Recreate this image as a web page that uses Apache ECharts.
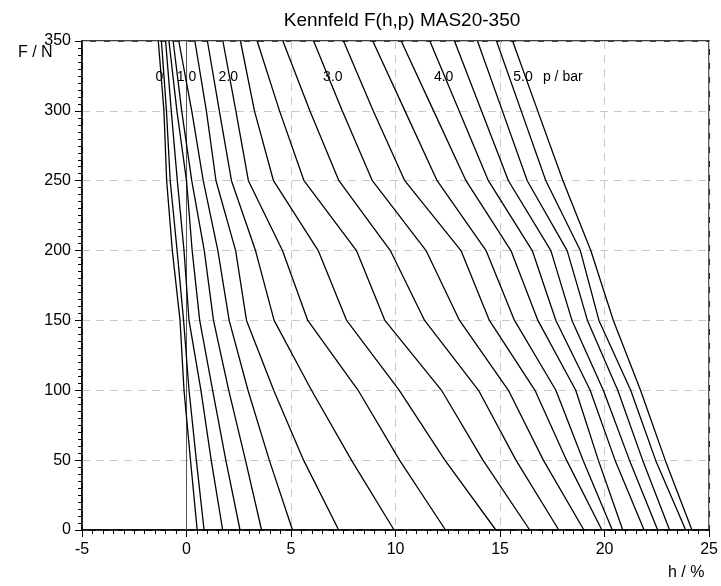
<!DOCTYPE html>
<html>
<head>
<meta charset="utf-8">
<script src="https://cdn.jsdelivr.net/npm/echarts@6/dist/echarts.min.js"></script>
<style>
html,body{margin:0;padding:0;background:#fff;}
#chart{width:721px;height:586px;}
</style>
</head>
<body>
<div id="chart"></div>
<script>
// Force levels (N) at which each curve's contraction h (%) is given
const forceLevels = [0, 50, 100, 150, 200, 250, 300, 350];

// Contraction h (%) per pressure curve, one array per curve (low to high pressure)
const curve01 = [0.51, 0.19, -0.12, -0.31, -0.68, -0.95, -1.08, -1.35];
const curve02 = [0.84, 0.47, 0.12, -0.14, -0.45, -0.78, -0.96, -1.20];
const curve03 = [1.73, 1.18, 0.69, 0.12, -0.12, -0.44, -0.73, -1.00];
const curve04 = [2.56, 1.88, 1.25, 0.63, 0.27, 0.00, -0.46, -0.84];
const curve05 = [3.59, 2.82, 2.02, 1.29, 0.85, 0.25, -0.23, -0.64];
const curve06 = [5.07, 3.96, 2.94, 2.04, 1.50, 0.80, 0.25, -0.37];
const curve07 = [7.28, 5.60, 4.17, 2.87, 2.35, 1.41, 0.95, 0.40];
const curve08 = [9.93, 7.89, 5.98, 4.19, 3.30, 2.15, 1.57, 1.00];
const curve09 = [12.39, 10.19, 8.21, 5.80, 4.59, 2.96, 2.36, 1.74];
const curve10 = [14.80, 12.36, 10.18, 7.66, 6.30, 4.16, 3.25, 2.58];
const curve11 = [16.42, 14.18, 12.20, 9.49, 8.13, 5.62, 4.45, 3.38];
const curve12 = [17.81, 15.76, 13.97, 11.39, 9.75, 7.29, 5.90, 4.61];
const curve13 = [19.01, 17.07, 15.40, 13.06, 11.46, 8.89, 7.45, 6.08];
const curve14 = [19.87, 18.18, 16.67, 14.49, 13.13, 10.44, 8.93, 7.51];
const curve15 = [20.37, 18.97, 17.67, 15.69, 14.33, 11.99, 10.45, 8.91];
const curve16 = [20.87, 19.70, 18.62, 16.81, 15.52, 13.37, 11.82, 10.27];
const curve17 = [21.89, 20.50, 19.31, 17.67, 16.54, 14.44, 13.04, 11.64];
const curve18 = [22.54, 21.19, 19.94, 18.44, 17.43, 15.40, 14.11, 12.82];
const curve19 = [23.11, 21.82, 20.63, 19.18, 18.21, 16.30, 15.11, 13.92];
const curve20 = [23.88, 22.44, 21.25, 19.73, 18.84, 17.19, 16.01, 14.83];
const curve21 = [24.18, 22.90, 21.72, 20.42, 19.34, 18.01, 16.80, 15.60];
const curves = [curve01, curve02, curve03, curve04, curve05, curve06, curve07,
  curve08, curve09, curve10, curve11, curve12, curve13, curve14, curve15,
  curve16, curve17, curve18, curve19, curve20, curve21];

// Zero reference line h = 0
const zeroLineH = [0, 0];
const zeroLineF = [0, 350];

// In-plot pressure labels (text and data-coordinate anchor)
const pressureLabels = ['0', '1.0', '2.0', '3.0', '4.0', '5.0', 'p / bar'];
const pressureLabelH = [-1.3, 0.0, 2.0, 7.0, 12.3, 16.1, 18.0];
const pressureLabelF = [324, 324, 324, 324, 324, 324, 324];

const titleText = 'Kennfeld F(h,p) MAS20-350';
const xName = 'h / %';
const yName = 'F / N';

const FONT = '"Liberation Sans", Arial, sans-serif';

const series = curves.map(function (c) {
  return {
    type: 'line',
    data: c.map(function (h, i) { return [h, forceLevels[i]]; }),
    symbol: 'none',
    lineStyle: { color: '#000', width: 1.3 },
    silent: true,
    z: 3
  };
});
series.push({
  type: 'line',
  data: zeroLineH.map(function (h, i) { return [h, zeroLineF[i]]; }),
  symbol: 'none',
  lineStyle: { color: '#555', width: 1 },
  silent: true,
  z: 2
});
series.push({
  type: 'scatter',
  symbolSize: 0,
  itemStyle: { opacity: 1 },
  data: pressureLabels.map(function (t, i) {
    return { value: [pressureLabelH[i], pressureLabelF[i]], name: t };
  }),
  label: {
    show: true,
    position: 'inside',
    formatter: function (p) { return p.name; },
    color: '#000',
    opacity: 1,
    fontFamily: FONT,
    fontSize: 14
  },
  silent: true,
  z: 5
});

const chart = echarts.init(document.getElementById('chart'), null, { renderer: 'canvas' });
chart.setOption({
  animation: false,
  backgroundColor: '#fff',
  title: {
    text: titleText,
    left: 397,
    textAlign: 'center',
    top: 6,
    textStyle: { fontFamily: FONT, fontSize: 19, fontWeight: 'normal', color: '#000' }
  },
  graphic: [
    { type: 'text', left: 18, top: 45, style: { text: yName, font: '16px ' + FONT, fill: '#000' } },
    { type: 'text', left: 668, top: 565, style: { text: xName, font: '16px ' + FONT, fill: '#000' } }
  ],
  grid: {
    left: 82, right: 10, top: 41, bottom: 56,
    show: true, borderColor: '#000', borderWidth: 1.5, backgroundColor: 'transparent'
  },
  xAxis: {
    type: 'value', min: -5, max: 25, interval: 5,
    axisLine: { show: true, onZero: false, lineStyle: { color: '#000', width: 1.5 } },
    axisTick: { show: true, length: 7, lineStyle: { color: '#000' } },
    minorTick: { show: true, splitNumber: 10, length: 4, lineStyle: { color: '#000' } },
    axisLabel: { color: '#000', fontFamily: FONT, fontSize: 16, margin: 12 },
    splitLine: { show: true, lineStyle: { color: '#c8c8c8', type: [8, 6], width: 1 } }
  },
  yAxis: {
    type: 'value', min: 0, max: 350, interval: 50,
    axisLine: { show: true, onZero: false, lineStyle: { color: '#000', width: 1.5 } },
    axisTick: { show: true, length: 7, lineStyle: { color: '#000' } },
    minorTick: { show: true, splitNumber: 10, length: 4, lineStyle: { color: '#000' } },
    axisLabel: { color: '#000', fontFamily: FONT, fontSize: 16, margin: 11 },
    splitLine: { show: true, lineStyle: { color: '#c8c8c8', type: [8, 6], width: 1 } }
  },
  series: series
});
</script>
</body>
</html>
